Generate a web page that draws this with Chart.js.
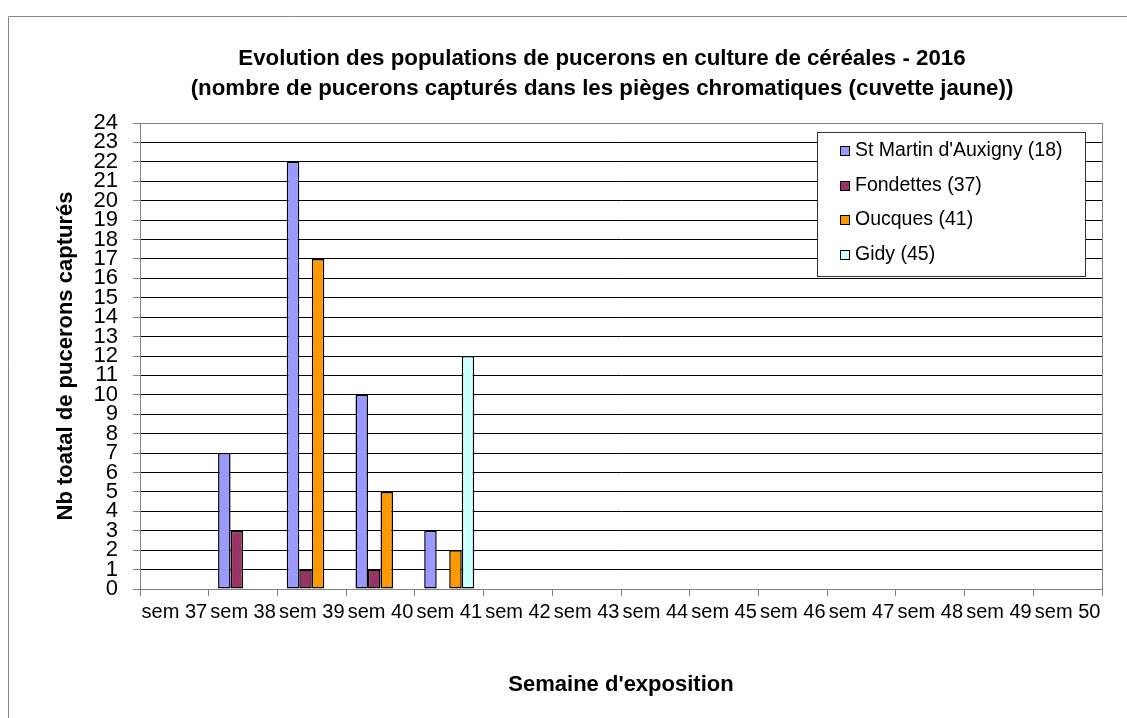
<!DOCTYPE html>
<html>
<head>
<meta charset="utf-8">
<script src="https://cdn.jsdelivr.net/npm/chart.js@4.4.0/dist/chart.umd.min.js"></script>
<style>
  body { margin: 0; background: #fff; }
  #wrap { width: 1127px; height: 718px; }
</style>
</head>
<body>
<div id="wrap"><canvas id="chart" width="1127" height="718"></canvas></div>
<script>
// semaines d'exposition
const semaines = ['sem 37', 'sem 38', 'sem 39', 'sem 40', 'sem 41', 'sem 42', 'sem 43',
                  'sem 44', 'sem 45', 'sem 46', 'sem 47', 'sem 48', 'sem 49', 'sem 50'];

// nb de pucerons par site (null = pas de barre)
const stMartin  = [null, 7, 22, 10, 3, null, null, null, null, null, null, null, null, null];
const fondettes = [null, 3, 1, 1, null, null, null, null, null, null, null, null, null, null];
const oucques   = [null, null, 17, 5, 2, null, null, null, null, null, null, null, null, null];
const gidy      = [null, null, null, null, 12, null, null, null, null, null, null, null, null, null];

const sites = ["St Martin d'Auxigny (18)", 'Fondettes (37)', 'Oucques (41)', 'Gidy (45)'];
const couleurs = ['#9999FF', '#993366', '#FF9900', '#CCFFFF'];

const titre = ['Evolution des populations de pucerons en culture de céréales - 2016',
               '(nombre de pucerons capturés dans les pièges chromatiques (cuvette jaune))'];

const FONT = "'Liberation Sans', Arial, sans-serif";
Chart.defaults.font.family = FONT;
Chart.defaults.color = '#000';

// titre, cadre et légende dessinés à la main (façon Excel)
const excelLook = {
  id: 'excelLook',
  afterDraw(chart) {
    const ctx = chart.ctx;
    const a = chart.chartArea;
    ctx.save();

    // cadre extérieur
    ctx.strokeStyle = '#888';
    ctx.lineWidth = 1;
    ctx.beginPath();
    ctx.moveTo(8.5, 718);
    ctx.lineTo(8.5, 16.5);
    ctx.lineTo(1127, 16.5);
    ctx.stroke();

    // cadre de la zone de traçage
    ctx.strokeStyle = '#808080';
    ctx.strokeRect(Math.round(a.left) + 0.5, Math.round(a.top) + 0.5,
                   Math.round(a.right - a.left), Math.round(a.bottom - a.top));

    // titre
    ctx.fillStyle = '#000';
    ctx.font = 'bold 22.3px ' + FONT;
    ctx.textAlign = 'center';
    ctx.textBaseline = 'alphabetic';
    ctx.fillText(titre[0], 602, 65);
    ctx.fillText(titre[1], 602, 95);

    // légende
    ctx.fillStyle = '#fff';
    ctx.fillRect(817.5, 132.5, 268, 144);
    ctx.strokeStyle = '#333';
    ctx.strokeRect(817.5, 132.5, 268, 144);
    ctx.font = '19.5px ' + FONT;
    ctx.textAlign = 'left';
    ctx.textBaseline = 'middle';
    chart.data.datasets.forEach((ds, i) => {
      const y = 151 + i * 34.5;
      ctx.fillStyle = ds.backgroundColor;
      ctx.fillRect(840.5, Math.round(y) - 4.5, 9, 9);
      ctx.strokeStyle = '#000';
      ctx.strokeRect(840.5, Math.round(y) - 4.5, 9, 9);
      ctx.fillStyle = '#000';
      ctx.fillText(ds.label, 855, y);
    });
    ctx.restore();
  }
};

const series = [stMartin, fondettes, oucques, gidy];

new Chart(document.getElementById('chart'), {
  type: 'bar',
  data: {
    labels: semaines,
    datasets: series.map((d, i) => ({
      label: sites[i],
      data: d,
      backgroundColor: couleurs[i],
      borderColor: '#000',
      borderWidth: 1.5,
      borderSkipped: false,
      barPercentage: 1,
      categoryPercentage: 0.728
    }))
  },
  options: {
    responsive: false,
    animation: false,
    layout: { padding: { top: 123, left: 0, right: 25, bottom: 0 } },
    plugins: {
      legend: { display: false },
      title: { display: false },
      tooltip: { enabled: false }
    },
    scales: {
      x: {
        afterFit(scale) { scale.height = 129; },
        grid: { drawOnChartArea: false, drawTicks: true, tickLength: 7, tickColor: '#808080', offset: true },
        border: { color: '#808080' },
        ticks: { autoSkip: false, maxRotation: 0, minRotation: 0, padding: 4, font: { size: 20 } },
        title: {
          display: true,
          text: "Semaine d'exposition",
          font: { size: 22, weight: 'bold' },
          padding: { top: 0, bottom: 19.8 }
        }
      },
      y: {
        min: 0,
        max: 24,
        afterFit(scale) { scale.width = 140; },
        grid: { color: '#000', lineWidth: 1, tickLength: 7, tickColor: '#808080' },
        border: { color: '#808080' },
        ticks: { stepSize: 1, autoSkip: false, padding: 15, font: { size: 22, lineHeight: 1 } },
        title: {
          display: true,
          text: 'Nb toatal de pucerons capturés',
          font: { size: 22, weight: 'bold' },
          padding: { top: 52.8, bottom: 0 }
        }
      }
    }
  },
  plugins: [excelLook]
});
</script>
</body>
</html>
